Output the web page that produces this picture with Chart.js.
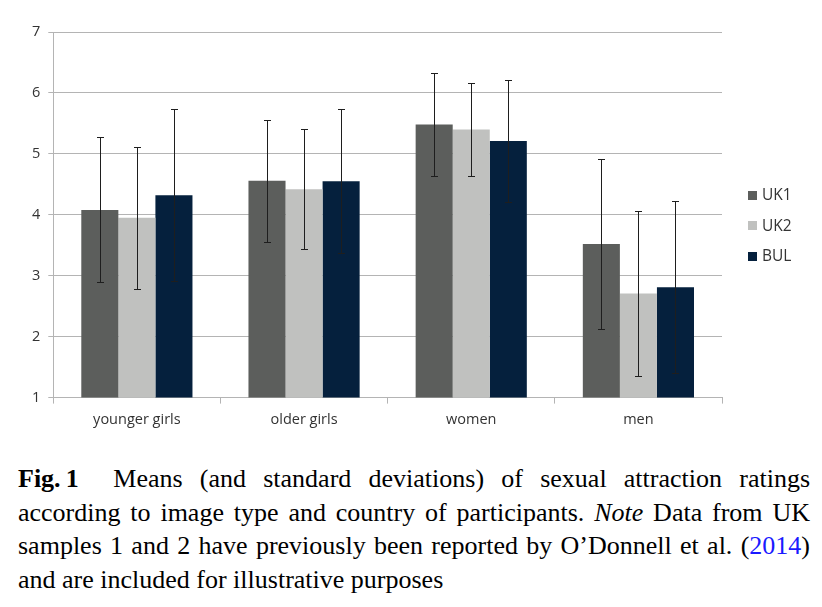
<!DOCTYPE html>
<html>
<head>
<meta charset="utf-8">
<script src="https://cdn.jsdelivr.net/npm/chart.js@4/dist/chart.umd.min.js"></script>
<style>
  html, body { margin: 0; padding: 0; background: #fff; }
  #wrap { position: relative; width: 822px; height: 607px; overflow: hidden; }
  #chartBox { position: absolute; left: 0; top: 0; width: 822px; height: 445px; }
  #caption {
    position: absolute; left: 18px; top: 462px; width: 792px;
    font-family: "Liberation Serif", "Times New Roman", serif;
    font-size: 26px; line-height: 33.5px; color: #000;
  }
  #caption .ln { white-space: nowrap; text-align: justify; text-align-last: justify; }
  #caption .ln.last { text-align: left; text-align-last: left; }
  #caption a { color: #1a1aff; text-decoration: none; }
</style>
</head>
<body>
<div id="wrap">
  <div id="chartBox"><canvas id="chart"></canvas></div>
  <div id="caption">
    <div class="ln"><b>Fig.&thinsp;1</b>&nbsp; Means (and standard deviations) of sexual attraction ratings</div>
    <div class="ln">according to image type and country of participants. <i>Note</i> Data from UK</div>
    <div class="ln">samples 1 and 2 have previously been reported by O’Donnell et al. (<a>2014</a>)</div>
    <div class="ln last">and are included for illustrative purposes</div>
  </div>
</div>
<script>
// categories and series (means)
const categories = ['younger girls', 'older girls', 'women', 'men'];
const seriesNames = ['UK1', 'UK2', 'BUL'];
const uk1Means = [4.08, 4.56, 5.48, 3.52];
const uk2Means = [3.95, 4.42, 5.40, 2.71];
const bulMeans = [4.32, 4.55, 5.21, 2.81];
// standard deviations (error bar half lengths)
const uk1Sd = [1.19, 1.00, 0.85, 1.39];
const uk2Sd = [1.16, 0.98, 0.77, 1.36];
const bulSd = [1.41, 1.18, 1.00, 1.41];
const yTicks = [1, 2, 3, 4, 5, 6, 7];

const barColors = ['#5c5e5c', '#c0c1bf', '#05203d'];
const axisFont = { family: "'Open Sans', 'DejaVu Sans', sans-serif", size: 14.5 };
const legendFont = { family: "'Open Sans', 'DejaVu Sans', sans-serif", size: 15.5 };

// draws the SD whiskers through the y scale
const errorBars = {
    id: 'errorBars',
    afterDatasetsDraw(chart) {
        const { ctx, scales: { y } } = chart;
        ctx.save();
        ctx.strokeStyle = '#1e1e1e';
        ctx.lineWidth = 1;
        chart.data.datasets.forEach((ds, i) => {
            const meta = chart.getDatasetMeta(i);
            meta.data.forEach((bar, j) => {
                const m = ds.data[j], s = ds.sd[j];
                const top = Math.round(y.getPixelForValue(m + s)) + 0.5;
                const bot = Math.round(y.getPixelForValue(m - s)) + 0.5;
                const x = Math.round(bar.x) + 0.5;
                ctx.beginPath();
                ctx.moveTo(x, top); ctx.lineTo(x, bot);
                ctx.moveTo(x - 3.5, top); ctx.lineTo(x + 3.5, top);
                ctx.moveTo(x - 3.5, bot); ctx.lineTo(x + 3.5, bot);
                ctx.stroke();
            });
        });
        ctx.restore();
    }
};

// legend to the right of the plot, like the spreadsheet original
const sideLegend = {
    id: 'sideLegend',
    afterDraw(chart) {
        const { ctx, chartArea } = chart;
        const x0 = chartArea.right + 26;
        const rowH = 30.5;
        const n = chart.data.datasets.length;
        const cy = (chartArea.top + chartArea.bottom) / 2 + 11;
        ctx.save();
        ctx.font = `${legendFont.size}px ${legendFont.family}`;
        ctx.textBaseline = 'middle';
        chart.data.datasets.forEach((ds, i) => {
            const y = cy + (i - (n - 1) / 2) * rowH;
            ctx.fillStyle = ds.backgroundColor;
            ctx.fillRect(x0, Math.round(y - 4.5), 9, 9);
            ctx.fillStyle = '#333';
            ctx.fillText(ds.label, x0 + 14, y + 0.5);
        });
        ctx.restore();
    }
};

new Chart(document.getElementById('chart'), {
    type: 'bar',
    data: {
        labels: categories,
        datasets: [
            { label: seriesNames[0], data: uk1Means, sd: uk1Sd, backgroundColor: barColors[0] },
            { label: seriesNames[1], data: uk2Means, sd: uk2Sd, backgroundColor: barColors[1] },
            { label: seriesNames[2], data: bulMeans, sd: bulSd, backgroundColor: barColors[2] }
        ]
    },
    options: {
        responsive: true,
        maintainAspectRatio: false,
        animation: false,
        devicePixelRatio: 1,
        categoryPercentage: 0.665,
        barPercentage: 1,
        layout: { padding: { top: 32, left: 24, right: 100, bottom: 8 } },
        scales: {
            y: {
                min: 1, max: 7,
                afterBuildTicks: (scale) => { scale.ticks = yTicks.map(v => ({ value: v })); },
                grid: { color: '#b4b4b4', lineWidth: 1, tickLength: 5, drawTicks: true },
                border: { color: '#b4b4b4' },
                ticks: { color: '#333', font: axisFont, padding: 8 }
            },
            x: {
                grid: { drawOnChartArea: false, drawTicks: true, tickLength: 6, color: '#b4b4b4', offset: true },
                border: { color: '#b4b4b4' },
                ticks: { color: '#333', font: axisFont, padding: 8 }
            }
        },
        plugins: {
            legend: { display: false },
            tooltip: { enabled: false }
        }
    },
    plugins: [errorBars, sideLegend]
});

// squeeze caption lines that overflow the column
document.querySelectorAll('#caption .ln').forEach(el => {
    let ls = 0;
    while (el.scrollWidth > el.clientWidth && ls > -2) {
        ls -= 0.1;
        el.style.letterSpacing = ls + 'px';
    }
});
</script>
</body>
</html>
